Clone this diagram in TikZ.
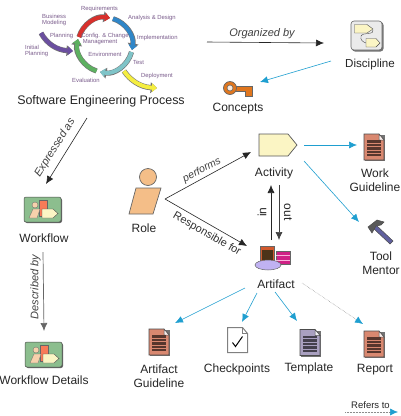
\documentclass[tikz,border=0pt]{standalone}
\usepackage{fontspec}
\setmainfont{Liberation Sans}
\usetikzlibrary{arrows.meta}
\definecolor{blueL}{HTML}{1F9FD0}
\definecolor{docred}{HTML}{D98870}
\definecolor{docpur}{HTML}{A9A0C0}
\definecolor{wfgreen}{HTML}{8CBE8E}
\definecolor{paleyel}{HTML}{FBF5C4}
\definecolor{skin}{HTML}{F4BE88}
\definecolor{keyor}{HTML}{E0761E}
\definecolor{phasecol}{HTML}{7A5C8C}
\definecolor{cRed}{HTML}{D8302C}
\definecolor{cBlue}{HTML}{2F86C8}
\definecolor{cTeal}{HTML}{7FC4C8}
\definecolor{cGreen}{HTML}{5DB060}
\definecolor{cPurple}{HTML}{6B4FA0}
\definecolor{cYellow}{HTML}{F5EE40}
\tikzset{
  x=1pt,y=-1pt,
  lbl/.style={font=\fontsize{12}{14}\selectfont,align=center,text=black!85,inner sep=0pt,yshift=-1pt},
  rel/.style={font=\itshape\fontsize{11}{12}\selectfont,text=black!75,inner sep=0pt},
  phase/.style={font=\fontsize{5.9}{7}\selectfont,text=phasecol,align=center,inner sep=0pt},
  blk/.style={draw=black!85,line width=0.6pt,-{Latex[length=8pt,width=7pt]}},
  gry/.style={draw=black!60,line width=0.7pt,-{Latex[length=8pt,width=7pt]}},
  blu/.style={draw=blueL,line width=0.6pt,-{Latex[length=8pt,width=7pt]}},
  dot/.style={draw=black!45,line width=0.5pt,densely dotted,-{Latex[length=8pt,width=7pt,blueL]}},
}
\newcommand{\cyc}[2]{%
  \draw[line width=5.2pt,draw=black!55,-{Triangle[length=6.5pt,width=10.5pt]},color=black!55] #2;
  \draw[line width=4pt,draw=#1,-{Triangle[length=5pt,width=8.5pt]},color=#1] #2;
}
\newcommand{\docicon}[3]{%
  \begin{scope}[shift={(#1,#2)}]
  \fill[black!55] (1,1) rectangle (21,27);
  \draw[black!70,fill=#3,line width=0.6pt] (0,0) -- (15,0) -- (20,6) -- (20,26) -- (0,26) -- cycle;
  \draw[black!70,fill=white!85!#3,line width=0.5pt] (15,0) -- (15,6) -- (20,6) -- cycle;
  \fill[black!60!#3] (3,6) rectangle (17,22);
  \foreach \y in {9,12.5,16,19.5}{\draw[#3,line width=0.6pt] (3,\y) -- (17,\y);}
  \end{scope}
}
\newcommand{\wficon}[2]{%
  \begin{scope}[shift={(#1,#2)}]
  \fill[black!60,rounded corners=2pt] (1,1) rectangle (38,26);
  \draw[black!70,fill=wfgreen,rounded corners=2pt,line width=0.5pt] (0,0) rectangle (37,25);
  \draw[black!60,fill=red!35!skin,line width=0.3pt] (15,3) rectangle (23,19);
  \draw[black!60,fill=skin!70,line width=0.3pt] (11,8) circle (3);
  \draw[black!60,fill=skin!70,line width=0.3pt] (9,12) -- (16,12) -- (13,21) -- (5,21) -- cycle;
  \draw[black!70,fill=paleyel,line width=0.4pt] (18,12) -- (29,12) -- (34,16.5) -- (29,21) -- (18,21) -- cycle;
  \end{scope}
}
\begin{document}
\begin{tikzpicture}
\useasboundingbox (0,0) rectangle (401,416);
\fill[white] (0,0) rectangle (401,416);
% process cycle
\cyc{cRed}{(79,37) .. controls (83,23.7) and (96.3,15.6) .. (110,18)}
\cyc{cBlue}{(113,18.7) .. controls (126.3,22.8) and (134.4,36.3) .. (132,50)}
\cyc{cTeal}{(131.5,52) .. controls (127.8,65.8) and (114.1,74.5) .. (100,72)}
\cyc{cGreen}{(96.5,71) .. controls (83.2,66.7) and (75.1,52.7) .. (78,39)}
\cyc{cPurple}{(41,33) .. controls (47,44) and (57,50) .. (73,51)}
\cyc{cYellow}{(124,71) .. controls (130,80) and (140,87) .. (157,88)}
\node[phase,anchor=west] (tRequire) at (81,9) {Requirements};
\node[phase,anchor=west] (tBiz) at (42,16) {Business};
\node[phase,anchor=west] (tMod) at (42,23) {Modeling};
\node[phase,anchor=west] (tAn) at (128,18) {Analysis \& Design};
\node[phase,anchor=west] (tPlan) at (50,36) {Planning};
\node[phase] (tCfg) at (105,36) {Config. \& Change};
\node[phase] (tMgmt) at (100,42.5) {Management};
\node[phase,anchor=west] (tImp) at (137,38) {Implementation};
\node[phase,anchor=west] (tIni) at (25,47) {Initial};
\node[phase,anchor=west] (tIni2) at (25,54) {Planning};
\node[phase] (tEnv) at (105,54) {Environment};
\node[phase,anchor=west] (tTest) at (133,62) {Test};
\node[phase,anchor=west] (tDep) at (141,76) {Deployment};
\node[phase,anchor=west] (tEval) at (72,80) {Evaluation};
\node[lbl,font=\fontsize{12.45}{14}\selectfont] (sep) at (101,100) {Software Engineering Process};
% discipline
\coordinate (orgA) at (207,42);
\coordinate (orgB) at (324,43);
\draw[blk] (orgA) -- (orgB);
\node[rel] (org) at (262,33.5) {Organized by};
\begin{scope}[shift={(351,21)}]
 \fill[black!55,rounded corners=3pt] (1,1) rectangle (32.5,30.5);
 \draw[black!60,fill=white!92!black,rounded corners=3pt,line width=0.6pt] (0,0) rectangle (31,29);
 \draw[black!70,line width=0.4pt] (22,9) .. controls (24,14) and (12,11) .. (10,15) .. controls (9,19) and (12,21) .. (15,22);
 \draw[black!70,fill=paleyel,line width=0.4pt] (3.5,3.5) -- (16,3.5) -- (22,8) -- (16,12) -- (3.5,12) -- cycle;
 \draw[black!70,fill=paleyel,line width=0.4pt] (15,17.5) -- (25,17.5) -- (29,22) -- (25,26) -- (15,26) -- cycle;
\end{scope}
\node[lbl,font=\fontsize{11.6}{14}\selectfont] (disc) at (370,63) {Discipline};
\coordinate (dk) at (331,61);
\coordinate (ck) at (260,82);
\draw[blu] (dk) -- (ck);
% key
\begin{scope}[shift={(230,88)}]
 \draw[black!60,line width=0.7pt,fill=keyor] (4,-2) -- (22,-2) -- (22,8) -- (15,8) -- (15,3) -- (4,3) -- cycle;
 \draw[black!60,fill=keyor,line width=0.7pt] (0,0) circle (6.5);
 \draw[black!60,fill=white!85!keyor,line width=0.6pt] (0,0) circle (3);
\end{scope}
\node[lbl] (conc) at (238,108) {Concepts};
% expressed as
\coordinate (exA) at (87,118);
\coordinate (exB) at (46,184);
\draw[blk] (exA) -- (exB);
\node[rel,rotate=58] (ex) at (55,148) {Expressed as};
% workflow
\wficon{24}{197}
\node[lbl] (wf) at (44,237) {Workflow};
\coordinate (dbA) at (43,252);
\coordinate (dbB) at (44,331);
\draw[gry] (dbA) -- (dbB);
\node[rel,rotate=90] (db) at (35.5,287) {Described by};
\wficon{25}{342}
\node[lbl] (wfd) at (44,379) {Workflow Details};
% role
\draw[black!60,fill=skin,line width=0.7pt] (148,177) circle (8.5);
\draw[black!60,fill=skin,line width=0.7pt] (136,188) -- (161,188) -- (153,214) -- (129,214) -- cycle;
\node[lbl] (role) at (144,227) {Role};
\coordinate (rl) at (165,199);
\coordinate (actw) at (251,152);
\coordinate (artw) at (247,246);
\draw[blk] (rl) -- (actw);
\draw[blk] (rl) -- (artw);
\node[rel,rotate=28,font=\itshape\fontsize{10.5}{12}\selectfont] (perf) at (202,170) {performs};
\node[font=\fontsize{11}{13}\selectfont,text=black!80,inner sep=0pt,rotate=-30] (resp) at (207,234) {Responsible for};
% activity
\draw[black!65,fill=paleyel,line width=0.7pt] (259,134) -- (288,134) -- (297,145) -- (288,156) -- (259,156) -- cycle;
\node[lbl] (act) at (274,172) {Activity};
\coordinate (inA) at (271,240);
\coordinate (inB) at (271,185);
\coordinate (outA) at (279,185);
\coordinate (outB) at (279,240);
\draw[blk] (inA) -- (inB);
\draw[gry,draw=black!75] (outA) -- (outB);
\node[font=\fontsize{12}{14}\selectfont,text=black!85,rotate=90,inner sep=0pt] (in) at (262,212) {in};
\node[font=\fontsize{12}{14}\selectfont,text=black!85,rotate=-90,inner sep=0pt] (out) at (288,212) {out};
% artifact icon
\draw[black!60,fill=brown!70!red,line width=0.5pt] (260,246) rectangle (274,261);
\fill[black!60!brown] (262,250) rectangle (273,260);
\draw[black!60,fill=magenta!85!black,line width=0.5pt] (276,251) rectangle (290,264);
\draw[white!70!magenta,line width=0.5pt] (276,255.5) -- (290,255.5) (276,260) -- (290,260);
\draw[black!60,fill=violet!35!blue!30,line width=0.5pt] (268,265) ellipse (13 and 5);
\node[lbl] (art) at (276,283) {Artifact};
% blue links
\coordinate (aA) at (304,145);
\coordinate (aB) at (357,145);
\draw[blu] (aA) -- (aB);
\coordinate (tA) at (304,161);
\coordinate (tB) at (359,222);
\draw[blu] (tA) -- (tB);
\docicon{364}{134}{docred}
\node[lbl] (wg) at (375,179.5) {Work\\Guideline};
% hammer
\draw[black!70,fill=blue!25!gray,line width=0.5pt] (376,225) -- (393,241) -- (390,244) -- (373,228) -- cycle;
\draw[black!70,fill=gray!70!black,line width=0.5pt] (368,227) -- (377,220) -- (384,222) -- (381,225) -- (376,226) -- (372,233) -- cycle;
\node[lbl] (tm) at (381,262.5) {Tool\\Mentor};
% fan
\coordinate (f1) at (245,288);
\coordinate (f1e) at (175,323);
\coordinate (f2) at (257,293);
\coordinate (f2e) at (242,322);
\coordinate (f3) at (275,292);
\coordinate (f3e) at (297,321);
\coordinate (f4) at (302,283);
\coordinate (f4e) at (363,324);
\draw[blu] (f1) -- (f1e);
\draw[blu] (f2) -- (f2e);
\draw[blu] (f3) -- (f3e);
\draw[dot] (f4) -- (f4e);
\docicon{149}{329}{docred}
\node[lbl] (ag) at (159,375.5) {Artifact\\Guideline};
\begin{scope}[shift={(227.5,327.5)}]
 \draw[black!50,fill=white,line width=1pt] (0,0) -- (15,0) -- (20,6) -- (20,25) -- (0,25) -- cycle;
 \draw[black!50,line width=0.5pt] (15,0) -- (15,6) -- (20,6);
 \draw[black,line width=1pt] (5,15) -- (8,19) -- (15,9);
\end{scope}
\node[lbl] (cp) at (237,368) {Checkpoints};
\docicon{300}{329.5}{docpur}
\node[lbl] (tpl) at (309,367) {Template};
\docicon{364}{331}{docred}
\node[lbl] (rep) at (375,369) {Report};
\node[inner sep=0pt,font=\fontsize{9.5}{11}\selectfont,text=black!85] (ref) at (370.5,405) {Refers to};
\coordinate (lgA) at (345,412);
\coordinate (lgB) at (398,412);
\draw[dot] (lgA) -- (lgB);
\end{tikzpicture}
\end{document}
